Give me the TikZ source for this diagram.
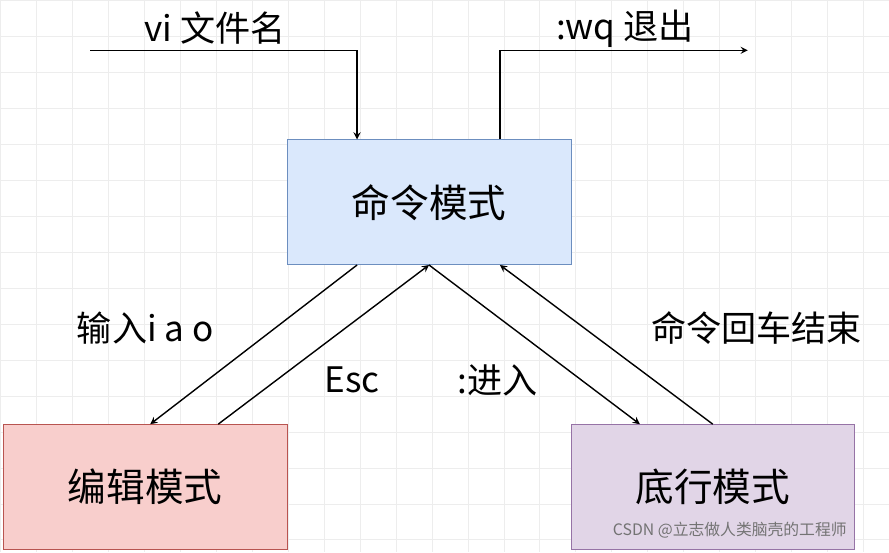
\documentclass[tikz,border=0pt]{standalone}
\usepackage{fontspec}
\setmainfont{Noto Sans CJK SC}
\usetikzlibrary{positioning}
\definecolor{cmdfill}{HTML}{DAE8FC}\definecolor{cmddraw}{HTML}{6C8EBF}
\definecolor{edtfill}{HTML}{F8CECC}\definecolor{edtdraw}{HTML}{B85450}
\definecolor{botfill}{HTML}{E1D5E7}\definecolor{botdraw}{HTML}{9673A6}
\tikzset{
  mode/.style={draw, minimum width=5.68cm, minimum height=2.5cm, font=\fontsize{22}{26}\selectfont},
  lbl/.style={font=\fontsize{20}{24}\selectfont},
  arr/.style={thick,-stealth}
}
\begin{document}
\begin{tikzpicture}[x=0.02cm,y=-0.02cm]
\fill[white] (0,0) rectangle (889,552);
\draw[black!7,step=0.72cm] (0,0) grid (889,552);
\node[mode, fill=cmdfill, draw=cmddraw] (cmd) at (429,202) {命令模式};
\node[mode, fill=edtfill, draw=edtdraw] (edt) at (145,487) {编辑模式};
\node[mode, fill=botfill, draw=botdraw] (bot) at (713,487) {底行模式};
\coordinate (vi) at (90,50);
\coordinate (wq) at (748,50);
\draw[arr] (vi) -| ([xshift=-72*0.02cm]cmd.north);
\draw[arr] ([xshift=71*0.02cm]cmd.north) |- (wq);
\draw[arr] ([xshift=-72*0.02cm]cmd.south) -- ([xshift=5*0.02cm]edt.north);
\draw[arr] ([xshift=73*0.02cm]edt.north) -- (cmd.south);
\draw[arr] (cmd.south) -- ([xshift=-73*0.02cm]bot.north);
\draw[arr] (bot.north) -- ([xshift=71*0.02cm]cmd.south);
\node[lbl] (l1) at (215,28) {vi 文件名};
\node[lbl] (l2) at (625,28) {:wq 退出};
\node[lbl] (l3) at (145,328) {输入i a o};
\node[lbl] (l4) at (352,380) {Esc};
\node[lbl] (l5) at (498,380) {:进入};
\node[lbl] (l6) at (757,328) {命令回车结束};
\node[font=\fontsize{9}{10}\selectfont, text=black!55] (wm) at (730,530) {CSDN @立志做人类脑壳的工程师};
\end{tikzpicture}
\end{document}
